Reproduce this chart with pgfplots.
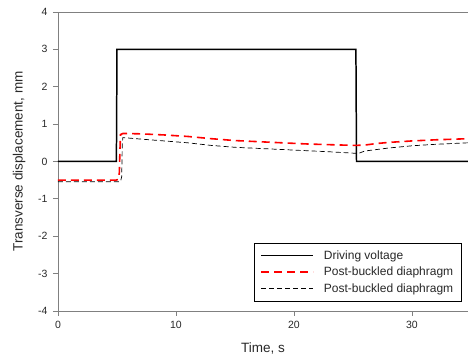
\documentclass[border=0pt]{standalone}
\usepackage{pgfplots}
\pgfplotsset{compat=1.18}
\usepackage{fontspec}
\setmainfont{Liberation Sans}
\definecolor{axgray}{RGB}{128,128,128}
\definecolor{txt}{RGB}{40,40,40}
\begin{document}
\begin{tikzpicture}
\begin{axis}[
  scale only axis,
  width=410bp, height=299bp,
  xmin=0, xmax=34.75, ymin=-4, ymax=4,
  axis x line*=bottom, axis y line*=left,
  axis line style={axgray, line width=0.8pt, -},
  xtick={0,10,20,30}, ytick={-4,-3,-2,-1,0,1,2,3,4},
  tick align=outside, major tick length=5bp,
  tick style={axgray, line width=0.8pt},
  /pgf/number format/assume math mode=true,
  ticklabel style={font=\fontsize{10.5bp}{12bp}\selectfont, text=txt},
  yticklabel style={xshift=-2bp},
  xticklabel style={yshift=-2bp},
  xlabel={Time, s}, ylabel={Transverse displacement, mm},
  label style={font=\fontsize{13.5bp}{15bp}\selectfont, text=txt},
  xlabel style={at={(axis description cs:0.5,-0.127)}, anchor=center},
  ylabel style={at={(axis description cs:-0.0951,0.5)}, anchor=center},
  legend cell align=left,
  legend style={at={(rel axis cs:0.984,0.033)}, anchor=south east,
    draw=black, font=\fontsize{12bp}{13bp}\selectfont, text=txt,
    row sep=2.5bp, inner xsep=6bp, inner ysep=5bp,
    /tikz/every odd column/.append style={column sep=8bp}},
  legend image code/.code={\draw[#1] (0bp,0bp) -- (52bp,0bp);},
]
\draw[axgray, line width=0.8pt] (rel axis cs:0,1) -- (rel axis cs:1,1);
\addplot[black, line width=1.5pt] coordinates {
(0,0) (4.95,0) (5.0,3) (25.25,3) (25.3,0) (34.75,0)};
\addlegendentry{Driving voltage}
\addplot[red, line width=1.6pt, dash pattern=on 8bp off 5bp] coordinates {
(0,-0.5) (4.9,-0.5) (5.1,-0.48) (5.2,-0.3) (5.25,0.3) (5.3,0.72) (5.5,0.75) (7,0.74) (9,0.71) (11,0.67) (13,0.61) (15,0.56) (17,0.53) (19,0.5) (21,0.47) (23,0.45) (25.2,0.43) (26,0.44) (27,0.48) (28,0.51) (30,0.55) (32,0.58) (34.75,0.61)};
\addlegendentry{Post-buckled diaphragm}
\addplot[black, line width=0.7pt, dash pattern=on 5bp off 3bp] coordinates {
(0,-0.54) (5.3,-0.54) (5.4,-0.4) (5.45,0.5) (5.5,0.64) (7,0.6) (9,0.55) (11,0.5) (13,0.43) (15,0.38) (17,0.35) (19,0.32) (21,0.29) (23,0.26) (25.2,0.22) (25.5,0.22) (26,0.28) (28,0.36) (30,0.42) (32,0.46) (34.75,0.5)};
\addlegendentry{Post-buckled diaphragm}
\end{axis}
\pgfresetboundingbox
\path ([xshift=-58bp,yshift=-47bp]current axis.south west) rectangle ([yshift=12bp]current axis.north east);
\end{tikzpicture}
\end{document}
